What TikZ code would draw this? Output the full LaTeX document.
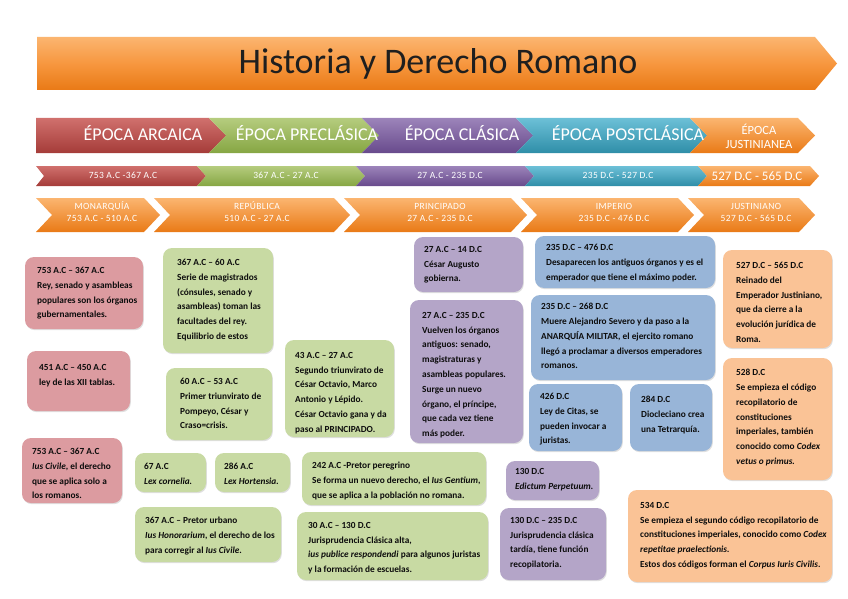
\documentclass[tikz,border=0pt]{standalone}
\usepackage{fontspec}
\setmainfont{Carlito}
\newfontfamily\spaced{Carlito}[LetterSpace=4]
\usetikzlibrary{shadows}

\definecolor{naranjaA}{HTML}{FBB570}
\definecolor{naranjaB}{HTML}{F7973F}
\definecolor{naranjaC}{HTML}{E97A16}
\definecolor{rojoA}{HTML}{D0706D}
\definecolor{rojoB}{HTML}{A53C39}
\definecolor{verdeA}{HTML}{B5CC7E}
\definecolor{verdeB}{HTML}{86A643}
\definecolor{moradoA}{HTML}{9C84BA}
\definecolor{moradoB}{HTML}{684A8C}
\definecolor{azulA}{HTML}{6CC0D7}
\definecolor{azulB}{HTML}{2F8EA8}
\definecolor{rosa}{HTML}{DC9BA0}
\definecolor{verdeC}{HTML}{C8DAA3}
\definecolor{moradoC}{HTML}{B4A5C8}
\definecolor{azulC}{HTML}{98B5D8}
\definecolor{melocoton}{HTML}{FAC396}

\begin{document}
\begin{tikzpicture}[
        x = 1pt, y = -1pt,
        box/.style = {rounded corners = 9pt, drop shadow = {opacity = 0.25, shadow xshift = 0.8pt, shadow yshift = -1.2pt}},
        txt/.style = {anchor = north west, inner sep = 0pt, align = left, text = black!95, font = \fontsize{9.3}{14.8}\selectfont\bfseries},
        eplab/.style = {text = white, font = \fontsize{18}{20}\selectfont},
        datelab/.style = {text = white, font = \spaced\fontsize{9.5}{12}\selectfont},
        perlab/.style = {text = white, align = center, font = \spaced\fontsize{9.5}{12}\selectfont}
    ]
        \useasboundingbox (0,0) rectangle (848,599);
        % titulo
        \path[top color = naranjaA, bottom color = naranjaC, middle color = naranjaB] (37,37) -- (815,37) -- (837,63.5) -- (815,90) -- (37,90) -- cycle;
        \node[font = \fontsize{36}{40}\selectfont, text = black!88] (titulo) at (438,64) {Historia y Derecho Romano};

        % epocas
        \path[top color = rojoA, bottom color = rojoB] (36,118) -- (209,118) -- (226,135.5) -- (209,153) -- (36,153) -- cycle;
        \path[top color = verdeA, bottom color = verdeB] (209,118) -- (362,118) -- (379,135.5) -- (362,153) -- (209,153) -- (226,135.5) -- cycle;
        \path[top color = moradoA, bottom color = moradoB] (362,118) -- (516,118) -- (533,135.5) -- (516,153) -- (362,153) -- (379,135.5) -- cycle;
        \path[top color = azulA, bottom color = azulB] (516,118) -- (690,118) -- (707,135.5) -- (690,153) -- (516,153) -- (533,135.5) -- cycle;
        \path[top color = naranjaA, bottom color = naranjaC] (690,118) -- (798,118) -- (815,135.5) -- (798,153) -- (690,153) -- (707,135.5) -- cycle;
        \node[eplab] (arcaica) at (143,133) {ÉPOCA ARCAICA};
        \node[eplab] (preclasica) at (307,133) {ÉPOCA PRECLÁSICA};
        \node[eplab] (clasica) at (462,133) {ÉPOCA CLÁSICA};
        \node[eplab] (postclasica) at (628,133) {ÉPOCA POSTCLÁSICA};
        \node[text = white, align = center, font = \fontsize{12.5}{14}\selectfont] (justinianea) at (759,136) {ÉPOCA\\JUSTINIANEA};

        % fechas
        \path[top color = rojoA, bottom color = rojoB] (36,166) -- (197,166) -- (206,176) -- (197,186) -- (36,186) -- (44,176) -- cycle;
        \path[top color = verdeA, bottom color = verdeB] (197,166) -- (356,166) -- (365,176) -- (356,186) -- (197,186) -- (206,176) -- cycle;
        \path[top color = moradoA, bottom color = moradoB] (356,166) -- (525,166) -- (534,176) -- (525,186) -- (356,186) -- (365,176) -- cycle;
        \path[top color = azulA, bottom color = azulB] (525,166) -- (698,166) -- (707,176) -- (698,186) -- (525,186) -- (534,176) -- cycle;
        \path[top color = naranjaA, bottom color = naranjaC] (698,166) -- (810,166) -- (819,176) -- (810,186) -- (698,186) -- (707,176) -- cycle;
        \node[datelab] (fecha1) at (123,175) {753 A.C -367 A.C};
        \node[datelab] (fecha2) at (286,175) {367 A.C - 27 A.C};
        \node[datelab] (fecha3) at (450,175) {27 A.C - 235 D.C};
        \node[datelab] (fecha4) at (618,175) {235 D.C - 527 D.C};
        \node[text = white, font = \fontsize{13}{14}\selectfont] (fecha5) at (757,176) {527 D.C - 565 D.C};

        % periodos
        \path[top color = naranjaA, bottom color = naranjaC] (36,198) -- (144,198) -- (160,215) -- (144,232) -- (36,232) -- (52,215) -- cycle;
        \path[top color = naranjaA, bottom color = naranjaC] (154,198) -- (334,198) -- (350,215) -- (334,232) -- (154,232) -- (170,215) -- cycle;
        \path[top color = naranjaA, bottom color = naranjaC] (344,198) -- (511,198) -- (527,215) -- (511,232) -- (344,232) -- (360,215) -- cycle;
        \path[top color = naranjaA, bottom color = naranjaC] (521,198) -- (678,198) -- (694,215) -- (678,232) -- (521,232) -- (537,215) -- cycle;
        \path[top color = naranjaA, bottom color = naranjaC] (688,198) -- (799,198) -- (815,215) -- (799,232) -- (688,232) -- (704,215) -- cycle;
        \node[perlab] (monarquia) at (102,212) {MONARQUÍA\\753 A.C - 510 A.C};
        \node[perlab] (republica) at (257,212) {REPÚBLICA\\510 A.C - 27 A.C};
        \node[perlab] (principado) at (440,212) {PRINCIPADO\\27 A.C - 235 D.C};
        \node[perlab] (imperio) at (614,212) {IMPERIO\\235 D.C - 476 D.C};
        \node[perlab] (justiniano) at (756,212) {JUSTINIANO\\527 D.C - 565 D.C};

        % monarquia
        \fill[rosa, box] (25,257) rectangle (143,329);
        \fill[rosa, box] (27,351) rectangle (130,411);
        \fill[rosa, box] (22,438) rectangle (122,503);
        \node[txt] (rey) at (37,267) {753 A.C – 367 A.C\\Rey, senado y asambleas\\populares son los órganos\\gubernamentales.};
        \node[txt] (tablas) at (39,364) {451 A.C – 450 A.C\\ley de las XII tablas.};
        \node[txt] (civile) at (32,448) {753 A.C – 367 A.C\\\textit{Ius Civile}, el derecho\\que se aplica solo a\\los romanos.};

        % republica
        \fill[verdeC, box] (163,248) rectangle (273,353);
        \fill[verdeC, box] (166,368) rectangle (272,440);
        \fill[verdeC, box] (285,340) rectangle (394,437);
        \fill[verdeC, box] (135,453) rectangle (206,492);
        \fill[verdeC, box] (215,453) rectangle (290,492);
        \fill[verdeC, box] (135,507) rectangle (281,562);
        \fill[verdeC, box] (302,452) rectangle (486,505);
        \fill[verdeC, box] (297,512) rectangle (488,580);
        \node[txt] (magistrados) at (177,259) {367 A.C – 60 A.C\\Serie de magistrados\\(cónsules, senado y\\asambleas) toman las\\facultades del rey.\\Equilibrio de estos};
        \node[txt] (triunvirato1) at (180,378) {60 A.C – 53 A.C\\Primer triunvirato de\\Pompeyo, César y\\Craso=crisis.};
        \node[txt] (triunvirato2) at (295,352) {43 A.C – 27 A.C\\Segundo triunvirato de\\César Octavio, Marco\\Antonio y Lépido.\\César Octavio gana y da\\paso al PRINCIPADO.};
        \node[txt] (cornelia) at (144,463) {67 A.C\\\textit{Lex cornelia.}};
        \node[txt] (hortensia) at (224,463) {286 A.C\\\textit{Lex Hortensia.}};
        \node[txt] (urbano) at (145,517) {367 A.C – Pretor urbano\\\textit{Ius Honorarium}, el derecho de los\\para corregir al \textit{Ius Civile}.};
        \node[txt] (peregrino) at (312,462) {242 A.C -Pretor peregrino\\Se forma un nuevo derecho, el \textit{Ius Gentium},\\que se aplica a la población no romana.};
        \node[txt] (alta) at (308,522) {30 A.C – 130 D.C\\Jurisprudencia Clásica alta,\\\textit{ius publice respondendi} para algunos juristas\\y la formación de escuelas.};

        % principado
        \fill[moradoC, box] (414,237) rectangle (523,292);
        \fill[moradoC, box] (410,300) rectangle (523,443);
        \fill[moradoC, box] (506,461) rectangle (599,500);
        \fill[moradoC, box] (500,508) rectangle (606,580);
        \node[txt] (augusto) at (424,246) {27 A.C – 14 D.C\\César Augusto\\gobierna.};
        \node[txt] (principe) at (422,312) {27 A.C – 235 D.C\\Vuelven los órganos\\antiguos: senado,\\magistraturas y\\asambleas populares.\\Surge un nuevo\\órgano, el príncipe,\\que cada vez tiene\\más poder.};
        \node[txt] (edictum) at (515,468) {130 D.C\\\textit{Edictum Perpetuum.}};
        \node[txt] (tardia) at (510,517) {130 D.C – 235 D.C\\Jurisprudencia clásica\\tardía, tiene función\\recopilatoria.};

        % imperio
        \fill[azulC, box] (535,236) rectangle (715,288);
        \fill[azulC, box] (531,295) rectangle (715,380);
        \fill[azulC, box] (529,384) rectangle (622,451);
        \fill[azulC, box] (630,384) rectangle (712,451);
        \node[txt] (emperador) at (546,244) {235 D.C – 476 D.C\\Desaparecen los antiguos órganos y es el\\emperador que tiene el máximo poder.};
        \node[txt] (anarquia) at (541,303) {235 D.C – 268 D.C\\Muere Alejandro Severo y da paso a la\\ANARQUÍA MILITAR, el ejercito romano\\llegó a proclamar a diversos emperadores\\romanos.};
        \node[txt] (citas) at (540,393) {426 D.C\\Ley de Citas, se\\pueden invocar a\\juristas.};
        \node[txt] (tetrarquia) at (641,396) {284 D.C\\Diocleciano crea\\una Tetrarquía.};

        % justiniano
        \fill[melocoton, box] (723,250) rectangle (832,348);
        \fill[melocoton, box] (723,358) rectangle (832,480);
        \fill[melocoton, box] (628,490) rectangle (832,582);
        \node[txt] (reinado) at (736,262) {527 D.C – 565 D.C\\Reinado del\\Emperador Justiniano,\\que da cierre a la\\evolución jurídica de\\Roma.};
        \node[txt] (vetus) at (736,369) {528 D.C\\Se empieza el código\\recopilatorio de\\constituciones\\imperiales, también\\conocido como \textit{Codex}\\\textit{vetus o primus.}};
        \node[txt] (corpus) at (640,502) {534 D.C\\Se empieza el segundo código recopilatorio de\\constituciones imperiales, conocido como \textit{Codex}\\\textit{repetitae praelectionis.}\\Estos dos códigos forman el \textit{Corpus Iuris Civilis}.};
    \end{tikzpicture}
\end{document}
